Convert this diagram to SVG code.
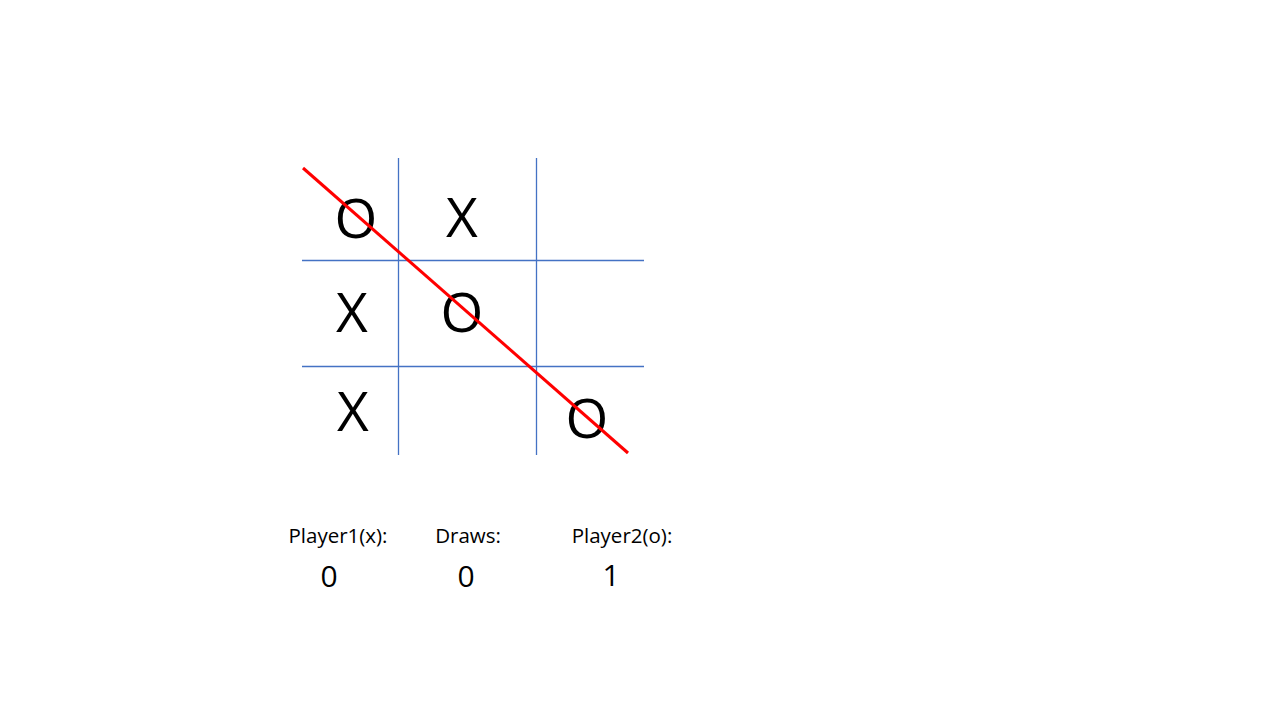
<svg xmlns="http://www.w3.org/2000/svg" width="1280" height="720" viewBox="0 0 1280 720">
<style>
.grid{stroke:#4472C4;stroke-width:1.3;fill:none}
.mark{font-family:"Open Sans","Liberation Sans",sans-serif;font-size:55px;fill:#000;text-anchor:middle}
.lbl{font-family:"Open Sans","Liberation Sans",sans-serif;font-size:20.5px;fill:#000;text-anchor:middle}
.num{font-family:"Open Sans","Liberation Sans",sans-serif;font-size:30px;fill:#000;text-anchor:middle}
</style>
<rect width="1280" height="720" fill="#fff"/>
<g id="grid">
<line class="grid" x1="398.5" y1="158" x2="398.5" y2="455"/>
<line class="grid" x1="536.5" y1="158" x2="536.5" y2="455"/>
<line class="grid" x1="302" y1="260.5" x2="644" y2="260.5"/>
<line class="grid" x1="302" y1="366.5" x2="644" y2="366.5"/>
</g>
<g id="marks">
<text class="mark" x="356" y="238">O</text>
<text class="mark" x="462" y="237">X</text>
<text class="mark" x="352" y="332">X</text>
<text class="mark" x="462" y="332">O</text>
<text class="mark" x="353" y="431">X</text>
<text class="mark" x="587" y="438">O</text>
</g>
<g id="winline">
<line x1="303" y1="168" x2="628" y2="453" stroke="#FF0000" stroke-width="3"/>
</g>
<g id="scores">
<text class="lbl" x="338" y="543">Player1(x):</text>
<text class="lbl" x="468" y="543">Draws:</text>
<text class="lbl" x="622" y="543">Player2(o):</text>
<text class="num" x="329" y="587">0</text>
<text class="num" x="466" y="587">0</text>
<text class="num" x="611" y="586">1</text>
</g>
</svg>
